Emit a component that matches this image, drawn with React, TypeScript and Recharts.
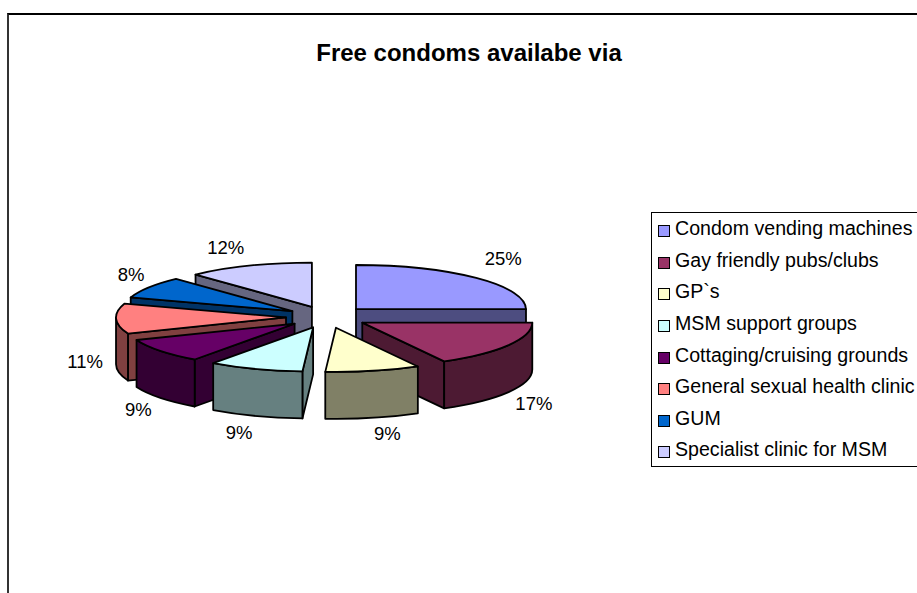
import React from 'react';
import { PieChart, Pie, Legend } from 'recharts';

const categories = [
  'Condom vending machines',
  'Gay friendly pubs/clubs',
  'GP`s',
  'MSM support groups',
  'Cottaging/cruising grounds',
  'General sexual health clinic',
  'GUM',
  'Specialist clinic for MSM',
];
const shares = [25, 17, 9, 9, 9, 11, 8, 12];
const topColors = ['#9999FF', '#993366', '#FFFFCC', '#CCFFFF', '#660066', '#FF8080', '#0066CC', '#CCCCFF'];
const wallColors = ['#4D4D80', '#4D1A33', '#808066', '#668080', '#330033', '#804040', '#003366', '#666680'];

const slices = categories.map((name, i) => ({ name, value: shares[i], fill: topColors[i], wall: wallColors[i] }));
const slicesReversed = [...slices].reverse();

// 3d look
const TILT = 0.26;
const DEPTH = 47;
const EXPLODE_X = 41;
const EXPLODE_Y = 11;
const rad = (d: number) => (d * Math.PI) / 180;

// small nudges so the % labels sit where excel put them
const labelNudge = [[3, -5], [-4, 1.5], [7, -4], [-5, -2], [5, 0], [3, -5], [11, -2.5], [-11, 0]];

function Slice3D(props: any, only: (name: string) => boolean) {
  const { cx, cy, outerRadius, startAngle, endAngle, fill, wall, name } = props;
  if (!only(name)) return <g />;

  // recharts angles -> clockwise from 12 o'clock
  const a = 90 - startAngle;
  const b = 90 - endAngle;
  let lo = Math.min(a, b);
  let hi = Math.max(a, b);
  if (lo < 0) {
    lo += 360;
    hi += 360;
  }
  const mid = (lo + hi) / 2;
  const ax = cx + EXPLODE_X * Math.sin(rad(mid));
  const ay = cy - EXPLODE_Y * Math.cos(rad(mid));
  const rx = outerRadius;
  const ry = outerRadius * TILT;
  const p = (d: number, drop = 0) => `${ax + rx * Math.sin(rad(d))} ${ay - ry * Math.cos(rad(d)) + drop}`;

  const radialWall = (d: number) => `M${ax} ${ay} L${p(d)} L${p(d, DEPTH)} L${ax} ${ay + DEPTH} Z`;
  const common = { stroke: '#000', strokeWidth: 1.8, strokeLinejoin: 'round' as const };
  const from = Math.max(lo, 90);
  const to = Math.min(hi, 270);

  return (
    <g>
      {Math.sin(rad(lo)) < -0.01 && <path d={radialWall(lo)} fill={wall} {...common} />}
      {Math.sin(rad(hi)) > 0.01 && <path d={radialWall(hi)} fill={wall} {...common} />}
      {from < to && (
        <path
          d={`M${p(from)} A${rx} ${ry} 0 0 1 ${p(to)} L${p(to, DEPTH)} A${rx} ${ry} 0 0 0 ${p(from, DEPTH)} Z`}
          fill={wall}
          {...common}
        />
      )}
      <path d={`M${ax} ${ay} L${p(lo)} A${rx} ${ry} 0 0 1 ${p(hi)} Z`} fill={fill} {...common} />
    </g>
  );
}

function PercentLabel(props: any) {
  const { cx, cy, midAngle, percent, index } = props;
  const d = 90 - midAngle;
  const cos = Math.cos(rad(d));
  const x = cx + 245 * Math.sin(rad(d)) + labelNudge[index][0];
  const y = cy - 75 * cos + (cos < 0 ? DEPTH : 0) + labelNudge[index][1];
  return (
    <text x={x} y={y} textAnchor="middle" dominantBaseline="central" fontSize={18.5} fill="#000">
      {`${Math.round(percent * 100)}%`}
    </text>
  );
}

function LegendBox({ payload }: any) {
  const items = (payload || []).filter((item: any) => item.type !== 'none');
  return (
    <div style={{ border: '1px solid #000', height: 255, width: 300, boxSizing: 'border-box', background: '#fff' }}>
      {items.map((item: any) => (
        <div key={item.value} style={{ height: 31.6, display: 'flex', alignItems: 'center', paddingLeft: 6, fontSize: 19.6, color: '#000', whiteSpace: 'nowrap' }}>
          <span style={{ width: 10, height: 10, border: '1.5px solid #000', background: item.color, marginRight: 5, marginTop: 5, flex: 'none' }} />
          {item.value}
        </div>
      ))}
    </div>
  );
}

export default function App() {
  return (
    <div style={{ position: 'absolute', left: 0, top: 0, width: 917, height: 593, overflow: 'hidden', background: '#fff', fontFamily: '"Liberation Sans", Arial, sans-serif' }}>
      <div style={{ position: 'absolute', left: 7, top: 13, width: 930, height: 600, borderTop: '2px solid #000', borderLeft: '2px solid #333' }} />
      <div style={{ position: 'absolute', left: 0, top: 0 }}>
        <PieChart width={917} height={593} margin={{ top: 0, right: 0, bottom: 0, left: 0 }}>
          <text x={469} y={52} textAnchor="middle" dominantBaseline="central" fontSize={24} fontWeight={700} fill="#000">
            Free condoms availabe via
          </text>
          <Pie
            data={slices}
            dataKey="value"
            nameKey="name"
            cx={327}
            cy={317}
            outerRadius={170}
            startAngle={90}
            endAngle={-270}
            isAnimationActive={false}
            labelLine={false}
            label={PercentLabel}
            shape={(p: any) => Slice3D(p, (n) => categories.indexOf(n) <= 2)}
          />
          {/* second pass, back to front on the left side */}
          <Pie
            data={slicesReversed}
            dataKey="value"
            nameKey="name"
            cx={327}
            cy={317}
            outerRadius={170}
            startAngle={90}
            endAngle={450}
            isAnimationActive={false}
            legendType="none"
            shape={(p: any) => Slice3D(p, (n) => categories.indexOf(n) > 2)}
          />
          <Legend
            layout="vertical"
            itemSorter={null}
            wrapperStyle={{ left: 651, top: 212, width: 300, bottom: 'auto', right: 'auto' }}
            content={LegendBox}
          />
        </PieChart>
      </div>
    </div>
  );
}
